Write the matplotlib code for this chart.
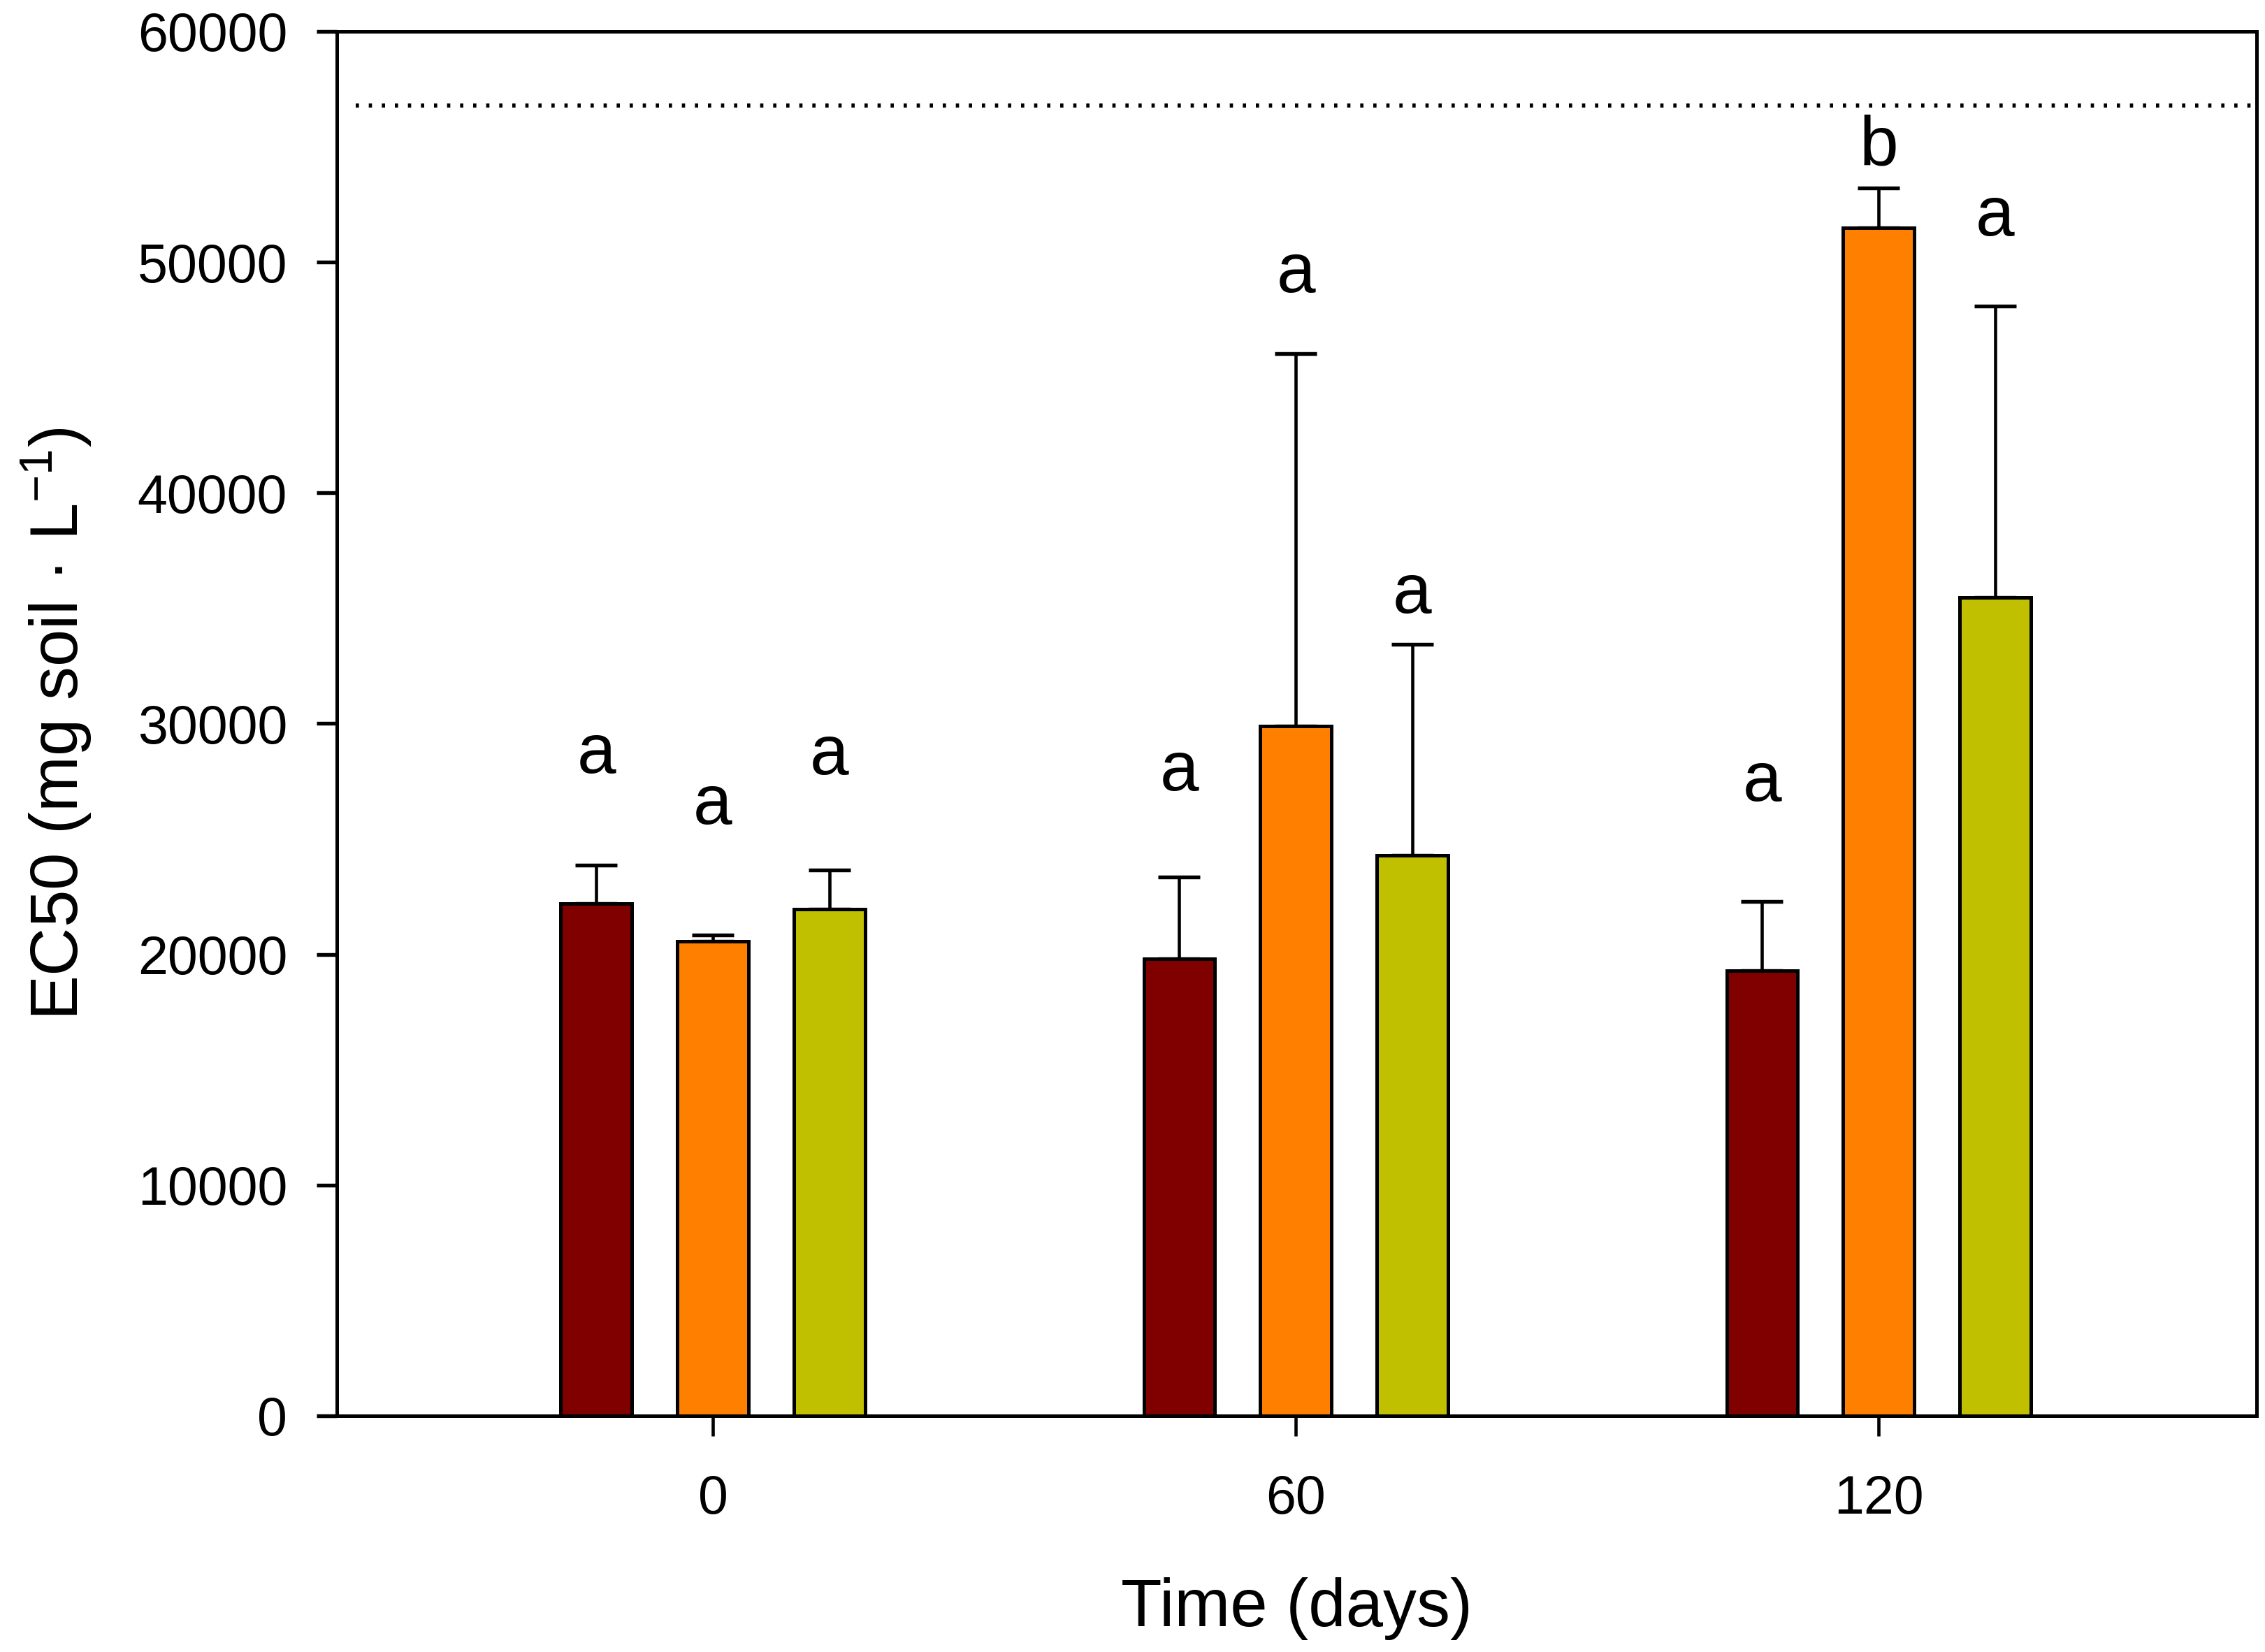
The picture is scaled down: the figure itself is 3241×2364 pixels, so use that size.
import matplotlib
matplotlib.use("Agg")
from matplotlib import pyplot as plt
import numpy as np

plt.rcParams['font.family'] = ['Liberation Sans', 'DejaVu Sans']
plt.rcParams['mathtext.fontset'] = 'custom'
plt.rcParams['mathtext.rm'] = 'Liberation Sans'
plt.rcParams['mathtext.it'] = 'Liberation Sans:italic'

# datos
dias = [0, 60, 120]
etiquetas_x = ['0', '60', '120']
colores = ['#800000', '#FF8000', '#C0C000']

ec50_s1 = [22200, 19800, 19300]
ec50_s2 = [20550, 29900, 51500]
ec50_s3 = [21950, 24300, 35450]

err_s1 = [1650, 3550, 3000]
err_s2 = [300, 16150, 1700]
err_s3 = [1700, 9150, 12650]

letras_s1 = ['a', 'a', 'a']
letras_s2 = ['a', 'a', 'b']
letras_s3 = ['a', 'a', 'a']

pos_letras_s1 = [27850, 27100, 26650]
pos_letras_s2 = [25650, 48700, 54200]
pos_letras_s3 = [27800, 34800, 51150]

limite = 56800

series = [ec50_s1, ec50_s2, ec50_s3]
errores = [err_s1, err_s2, err_s3]
letras = [letras_s1, letras_s2, letras_s3]
pos_letras = [pos_letras_s1, pos_letras_s2, pos_letras_s3]
desplaz = [-12, 0, 12]
ancho = 7.3

fig = plt.figure(figsize=(3241 / 300, 2364 / 300), dpi=300)
ax = fig.add_axes([0.1487, 0.143, 0.9963 - 0.1487, 0.981 - 0.143])

x = np.array(dias)
for k in range(3):
    ax.bar(x + desplaz[k], series[k], width=ancho, color=colores[k],
           edgecolor='black', linewidth=1.2, zorder=2)
    ax.errorbar(x + desplaz[k], series[k], yerr=[np.zeros(3), errores[k]],
                fmt='none', ecolor='black', elinewidth=1.1, capsize=7.2,
                capthick=1.3, zorder=1)
    for i in range(3):
        ax.text(x[i] + desplaz[k], pos_letras[k][i], letras[k][i],
                ha='center', va='baseline', fontsize=24)

# linea punteada de referencia
ax.axhline(limite, xmin=0.01, xmax=1.0, color='black', linewidth=1.4,
           linestyle=(0, (0.8, 2.4)))

ax.set_xlim(-38.7, 158.9)
ax.set_ylim(0, 60000)
ax.set_xticks(dias)
ax.set_xticklabels(etiquetas_x)
ax.set_yticks(np.arange(0, 60001, 10000))

ax.tick_params(axis='y', direction='out', length=7, width=1.3, pad=10,
               labelsize=18.5)
ax.tick_params(axis='x', direction='out', length=7, width=1.1, pad=13,
               labelsize=18.5)

for lado in ['top', 'bottom', 'left', 'right']:
    ax.spines[lado].set_linewidth(1.2)

ax.set_xlabel('Time (days)', fontsize=23, labelpad=18)
ax.set_ylabel(r'EC50 (mg soil · L$^{\mathregular{-1}}$)', fontsize=23,
              labelpad=15)

fig.savefig('out.png', dpi=300)
